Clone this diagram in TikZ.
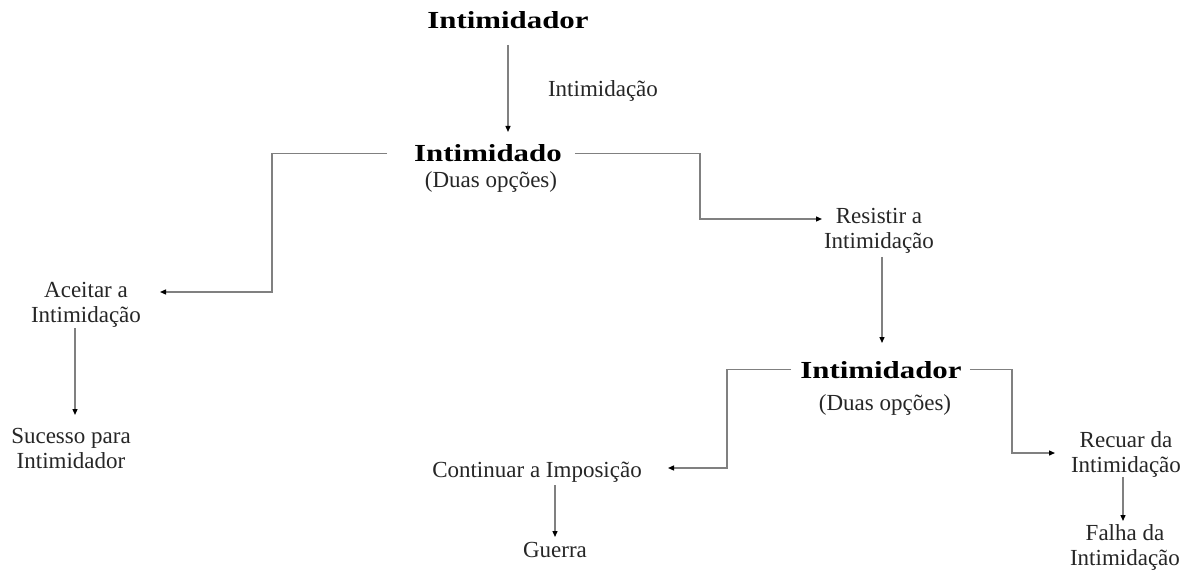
\documentclass[tikz,border=0pt]{standalone}
\usepackage{fontspec}
\usepackage{graphicx}
\setmainfont{Liberation Serif}
\usetikzlibrary{arrows.meta}
\begin{document}
\begin{tikzpicture}[x=1pt,y=-1pt,
  lbl/.style={font=\fontsize{23}{24.5}\selectfont, text=black!85, inner sep=0pt, align=center, anchor=base},
  hd/.style={font=\bfseries\fontsize{24.5}{28}\selectfont, text=black, inner sep=0pt, anchor=base},
  conn/.style={draw=black!50, line width=1.3pt},
  arr/.style={conn, -{Triangle[length=6pt,width=5pt,color=black]}}]
\useasboundingbox[fill=white] (0,0) rectangle (1189,572);

% nodes
\node[hd] (t1) at (508,29) {\scalebox{1.26}[1]{Intimidador}};
\node[lbl] (lab) at (603,97) {Intimidação};
\node[hd] (idado) at (488,162) {\scalebox{1.26}[1]{Intimidado}};
\node[lbl] (op1) at (491,188) {(Duas opções)};
\node[lbl] (acc) at (86,322) {Aceitar a\\Intimidação};
\node[lbl] (suc) at (71,468) {Sucesso para\\Intimidador};
\node[lbl] (res) at (879,248) {Resistir a\\Intimidação};
\node[hd] (t2) at (881,378) {\scalebox{1.26}[1]{Intimidador}};
\node[lbl] (op2) at (885,410) {(Duas opções)};
\node[lbl] (cont) at (537,477) {Continuar a Imposição};
\node[lbl] (guer) at (555,557) {Guerra};
\node[lbl] (rec) at (1126,472) {Recuar da\\Intimidação};
\node[lbl] (fal) at (1125,565) {Falha da\\Intimidação};

% free ends
\coordinate (e1) at (160,292);
\coordinate (e2) at (822,219);
\coordinate (e4) at (668,468);
\coordinate (e5) at (1055,453);

% connectors
\draw[arr] (508,45) coordinate (s0) -- (s0 |- 0,132);
\draw[arr] ([xshift=-27pt]idado.west) -| (272,292) -- (e1);
\draw[arr] ([xshift=13pt]idado.east) -| (700,219) -- (e2);
\draw[arr] (882,257) coordinate (s3) -- (882,343);
\draw[arr] ([xshift=-9pt]t2.west) -| (727,468) -- (e4);
\draw[arr] ([xshift=8pt]t2.east) -| (1012,453) -- (e5);
\draw[arr] (75,328) coordinate (s6) -- (75,415);
\draw[arr] (555,485) coordinate (s7) -- (555,537);
\draw[arr] (1123,477) coordinate (s8) -- (1123,521);
\end{tikzpicture}
\end{document}
